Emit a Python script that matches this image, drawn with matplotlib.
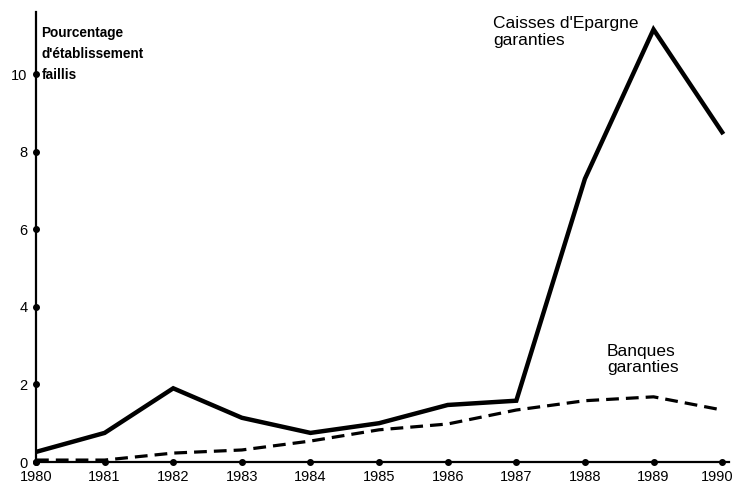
import matplotlib
matplotlib.use("Agg")
import matplotlib.pyplot as plt
from matplotlib.transforms import ScaledTranslation

years = [1980, 1981, 1982, 1983, 1984, 1985, 1986, 1987, 1988, 1989, 1990]
caisses = [0.26, 0.75, 1.9, 1.14, 0.75, 1.0, 1.47, 1.58, 7.3, 11.15, 8.5]
banques = [0.05, 0.05, 0.23, 0.31, 0.54, 0.83, 0.98, 1.34, 1.58, 1.68, 1.34]
yticks = [0, 2, 4, 6, 8, 10]

regular = ['Liberation Sans', 'DejaVu Sans']

fig = plt.figure(figsize=(7.36, 4.88), dpi=100)
ax = fig.add_axes([36/736, 26/488, 693/736, 450/488])

ax.plot(years, caisses, color='black', lw=3.2, solid_joinstyle='miter', zorder=3)
ax.plot(years, banques, color='black', lw=2.3, dashes=(4, 2.2), zorder=3)

ax.set_xlim(1980, 1990.1)
ax.set_ylim(0, 11.6)

for s in ['top', 'right']:
    ax.spines[s].set_visible(False)
ax.spines['left'].set_linewidth(1.6)
ax.spines['bottom'].set_linewidth(1.6)

ax.set_xticks(years)
ax.set_yticks(yticks)
ax.tick_params(length=0, pad=6)
for lab in ax.get_xticklabels() + ax.get_yticklabels():
    lab.set_family(regular)
    lab.set_fontsize(10.5)
last = ax.get_xticklabels()[-1]
last.set_transform(last.get_transform() + ScaledTranslation(-5/100, 0, fig.dpi_scale_trans))

# dot tick markers
ax.plot(years, [0]*len(years), ls='none', marker='o', ms=4, color='black', clip_on=False, zorder=4)
ax.plot([years[0]]*len(yticks), yticks, ls='none', marker='o', ms=4, color='black', clip_on=False, zorder=4)

ax.text(0.008, 0.97, "Pourcentage\nd'établissement\nfaillis", transform=ax.transAxes,
        family=regular, fontweight='bold', fontsize=9.8, va='top', ha='left', linespacing=1.65)
ax.text(1986.66, 11.5, "Caisses d'Epargne\ngaranties", family=regular, fontsize=12.5,
        va='top', ha='left', linespacing=1.15)
ax.text(1988.32, 3.05, "Banques\ngaranties", family=regular, fontsize=12.5,
        va='top', ha='left', linespacing=1.15)

fig.savefig("out.png", dpi=100)
